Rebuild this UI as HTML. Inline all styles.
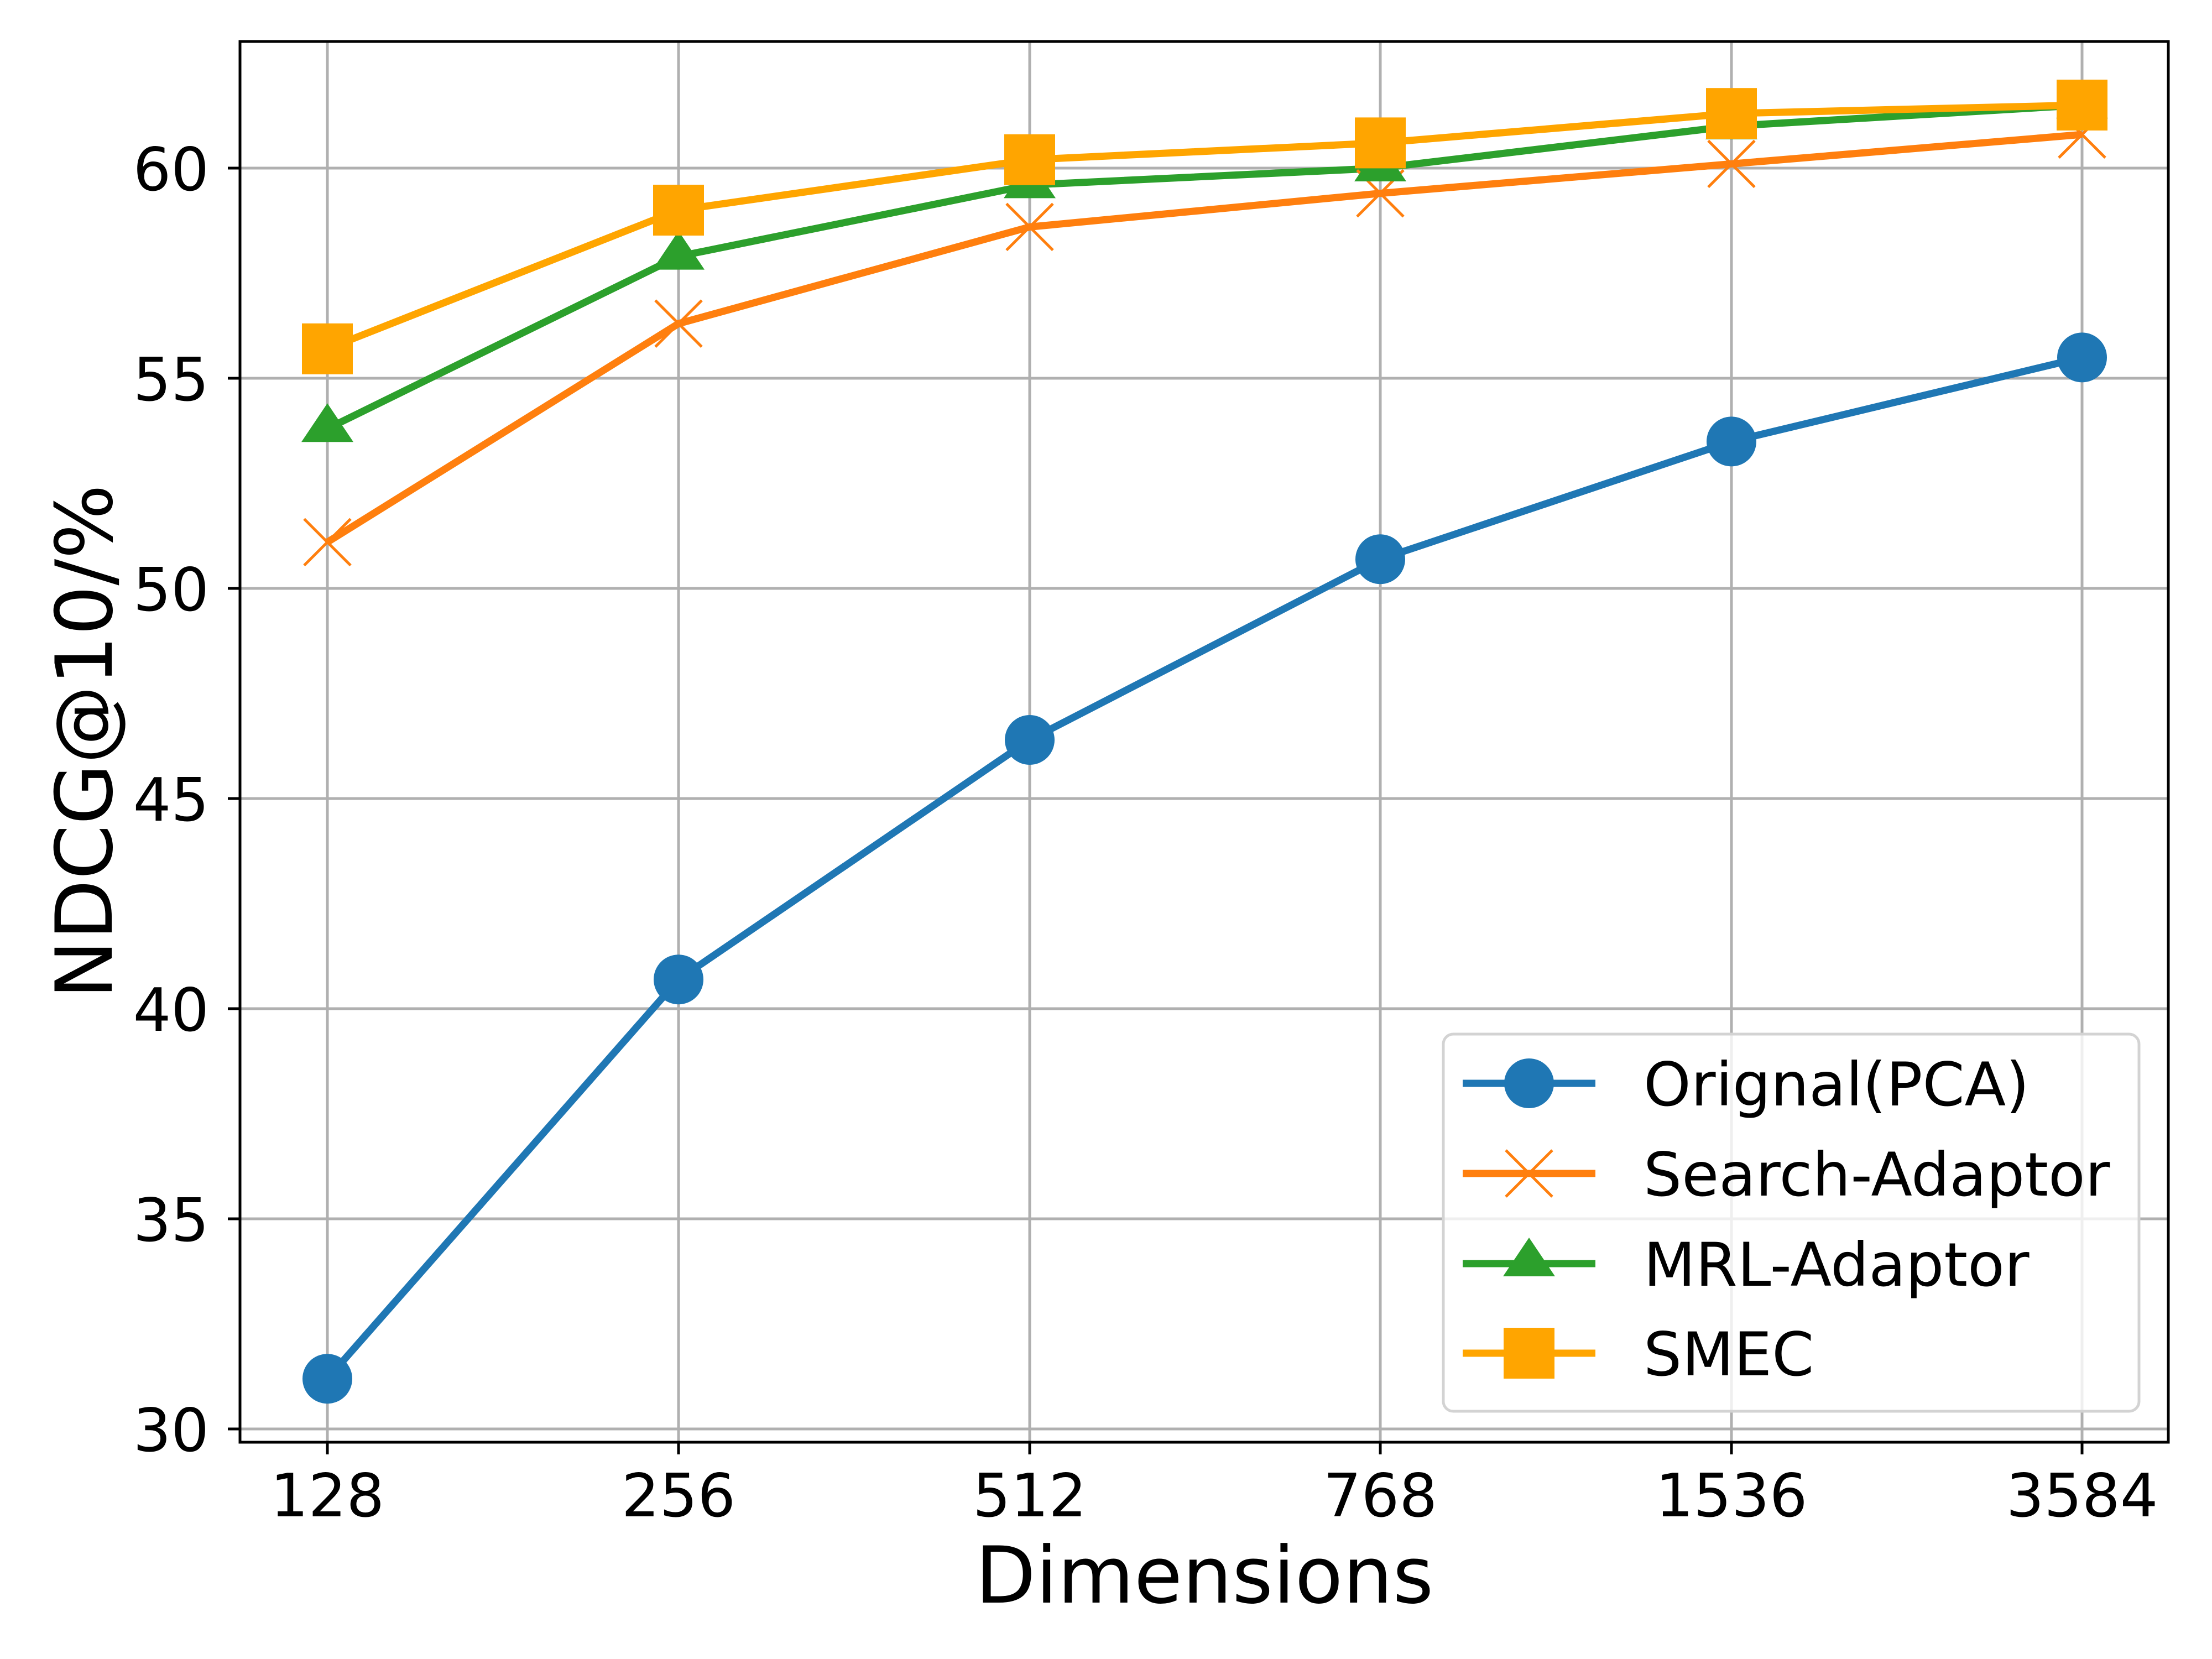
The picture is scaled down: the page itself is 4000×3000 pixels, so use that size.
<!DOCTYPE html>
<html><head><meta charset="utf-8"><style>html,body{margin:0;padding:0;background:#fff}svg{display:block}</style></head>
<body>
<svg xmlns="http://www.w3.org/2000/svg" width="4000" height="3000" viewBox="0 0 4000 3000" font-family="'DejaVu Sans','Liberation Sans',sans-serif">
<rect width="4000" height="3000" fill="#fff"/>
<g stroke="#b0b0b0" stroke-width="5">
<line x1="592" y1="75" x2="592" y2="2608"/>
<line x1="1227" y1="75" x2="1227" y2="2608"/>
<line x1="1862" y1="75" x2="1862" y2="2608"/>
<line x1="2496" y1="75" x2="2496" y2="2608"/>
<line x1="3131" y1="75" x2="3131" y2="2608"/>
<line x1="3765" y1="75" x2="3765" y2="2608"/>
<line x1="434" y1="304" x2="3921" y2="304"/>
<line x1="434" y1="684" x2="3921" y2="684"/>
<line x1="434" y1="1064" x2="3921" y2="1064"/>
<line x1="434" y1="1444" x2="3921" y2="1444"/>
<line x1="434" y1="1824" x2="3921" y2="1824"/>
<line x1="434" y1="2204" x2="3921" y2="2204"/>
<line x1="434" y1="2584" x2="3921" y2="2584"/>
</g>
<g fill="none" stroke-width="13" stroke-linejoin="round">
<polyline stroke="#1f77b4" points="592,2493.2 1227,1771.2 1862,1338 2496,1011.2 3131,798.4 3765,646.4"/>
<polyline stroke="#ff7f0e" points="592,980.4 1227,585.2 1862,410.4 2496,349.6 3131,296.4 3765,243.2"/>
<polyline stroke="#2ca02c" points="592,775.2 1227,463.6 1862,334.4 2496,304 3131,228 3765,190"/>
<polyline stroke="#ffa500" points="592,630.8 1227,380 1862,288.8 2496,258.4 3131,205.2 3765,190"/>
</g>
<g fill="#1f77b4">
<circle cx="592" cy="2493.2" r="45"/><circle cx="1227" cy="1771.2" r="45"/><circle cx="1862" cy="1338" r="45"/><circle cx="2496" cy="1011.2" r="45"/><circle cx="3131" cy="798.4" r="45"/><circle cx="3765" cy="646.4" r="45"/>
</g>
<g stroke="#ff7f0e" stroke-width="5">
<path d="M550,938.4l84,84m0,-84l-84,84"/><path d="M1185,543.2l84,84m0,-84l-84,84"/><path d="M1820,368.4l84,84m0,-84l-84,84"/><path d="M2454,307.6l84,84m0,-84l-84,84"/><path d="M3089,254.4l84,84m0,-84l-84,84"/><path d="M3723,201.2l84,84m0,-84l-84,84"/>
</g>
<g fill="#2ca02c">
<path d="M592,729.2l47,70h-94z"/><path d="M1227,417.6l47,70h-94z"/><path d="M1862,288.4l47,70h-94z"/><path d="M2496,258l47,70h-94z"/><path d="M3131,182l47,70h-94z"/><path d="M3765,144l47,70h-94z"/>
</g>
<g fill="#ffa500">
<rect x="546" y="584.8" width="92" height="92"/><rect x="1181" y="334" width="92" height="92"/><rect x="1816" y="242.8" width="92" height="92"/><rect x="2450" y="212.4" width="92" height="92"/><rect x="3085" y="159.2" width="92" height="92"/><rect x="3719" y="144" width="92" height="92"/>
</g>
<rect x="434" y="75" width="3487" height="2533" fill="none" stroke="#000" stroke-width="5"/>
<g stroke="#000" stroke-width="5">
<line x1="592" y1="2608" x2="592" y2="2630"/><line x1="1227" y1="2608" x2="1227" y2="2630"/><line x1="1862" y1="2608" x2="1862" y2="2630"/><line x1="2496" y1="2608" x2="2496" y2="2630"/><line x1="3131" y1="2608" x2="3131" y2="2630"/><line x1="3765" y1="2608" x2="3765" y2="2630"/>
<line x1="412" y1="304" x2="434" y2="304"/><line x1="412" y1="684" x2="434" y2="684"/><line x1="412" y1="1064" x2="434" y2="1064"/><line x1="412" y1="1444" x2="434" y2="1444"/><line x1="412" y1="1824" x2="434" y2="1824"/><line x1="412" y1="2204" x2="434" y2="2204"/><line x1="412" y1="2584" x2="434" y2="2584"/>
</g>
<g font-size="108" text-anchor="middle">
<text x="592" y="2742">128</text><text x="1227" y="2742">256</text><text x="1862" y="2742">512</text><text x="2496" y="2742">768</text><text x="3131" y="2742">1536</text><text x="3765" y="2742">3584</text>
</g>
<g font-size="108" text-anchor="end">
<text x="378" y="344">60</text><text x="378" y="724">55</text><text x="378" y="1104">50</text><text x="378" y="1484">45</text><text x="378" y="1864">40</text><text x="378" y="2244">35</text><text x="378" y="2624">30</text>
</g>
<text x="2178" y="2898" font-size="142" text-anchor="middle">Dimensions</text>
<text transform="translate(202,1341) rotate(-90)" font-size="142" text-anchor="middle">NDCG@10/%</text>
<rect x="2610" y="1870" width="1258" height="682" rx="18" fill="#fff" fill-opacity="0.8" stroke="#d3d3d3" stroke-width="5"/>
<line x1="2645" y1="1959" x2="2885" y2="1959" stroke="#1f77b4" stroke-width="13"/><circle cx="2765" cy="1959" r="45" fill="#1f77b4"/>
<line x1="2645" y1="2122" x2="2885" y2="2122" stroke="#ff7f0e" stroke-width="13"/><path d="M2723,2080l84,84m0,-84l-84,84" stroke="#ff7f0e" stroke-width="5"/>
<line x1="2645" y1="2285" x2="2885" y2="2285" stroke="#2ca02c" stroke-width="13"/><path d="M2765,2238l47,70h-94z" fill="#2ca02c"/>
<line x1="2645" y1="2447" x2="2885" y2="2447" stroke="#ffa500" stroke-width="13"/><rect x="2719" y="2401" width="92" height="92" fill="#ffa500"/>
<g font-size="109">
<text x="2972" y="1999">Orignal(PCA)</text><text x="2972" y="2162">Search-Adaptor</text><text x="2972" y="2325">MRL-Adaptor</text><text x="2972" y="2487">SMEC</text>
</g>
</svg>
</body></html>
